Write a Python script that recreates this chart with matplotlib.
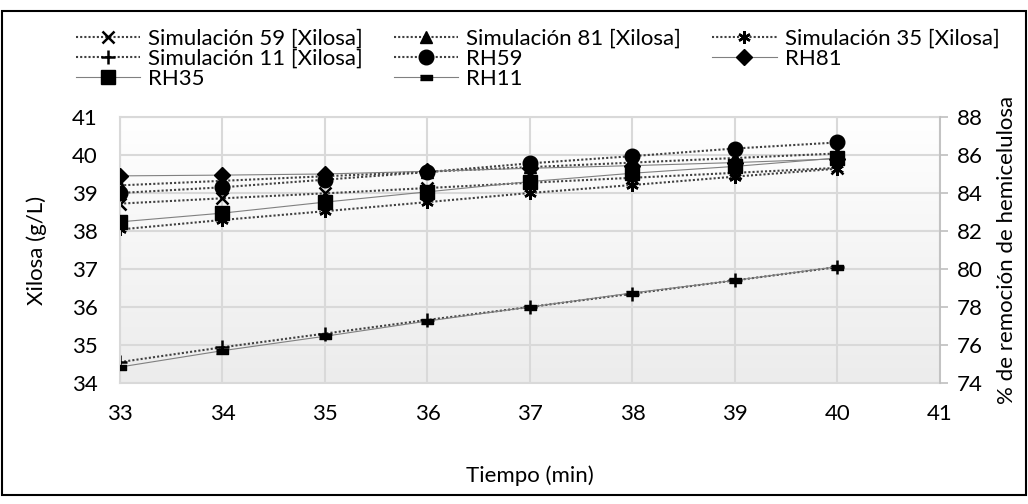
import numpy as np
import matplotlib.pyplot as plt
from matplotlib.patches import Rectangle
from matplotlib.colors import LinearSegmentedColormap

plt.rcParams['font.family'] = ['Lato', 'DejaVu Sans']

tiempo = [33, 34, 35, 36, 37, 38, 39, 40]

# Xilosa (g/L), eje izquierdo
sim59 = [38.72, 38.86, 38.99, 39.13, 39.27, 39.40, 39.53, 39.66]
sim81 = [39.20, 39.32, 39.44, 39.56, 39.68, 39.80, 39.92, 40.04]
sim35 = [38.04, 38.29, 38.52, 38.76, 39.00, 39.21, 39.43, 39.64]
sim11 = [34.55, 34.94, 35.30, 35.66, 36.00, 36.35, 36.70, 37.05]

# % de remoción de hemicelulosa, eje derecho
rh59 = [84.0, 84.3, 84.7, 85.1, 85.56, 85.94, 86.34, 86.66]
rh81 = [84.9, 84.94, 85.0, 85.14, 85.3, 85.44, 85.6, 85.8]
rh35 = [82.48, 82.94, 83.52, 84.06, 84.6, 85.04, 85.4, 85.84]
rh11 = [74.84, 75.7, 76.46, 77.26, 78.0, 78.74, 79.4, 80.12]

fs = 16

fig = plt.figure(figsize=(10.28, 5.04), dpi=100)
ax = fig.add_axes([0.1167, 0.2401, 0.7977, 0.5278])
ax2 = ax.twinx()

# fondo degradado del área de trazado
grad = np.linspace(0, 1, 256).reshape(-1, 1)
ax.imshow(grad, extent=[0, 1, 0, 1], transform=ax.transAxes,
          cmap=LinearSegmentedColormap.from_list('g', ['#ececec', '#ffffff']),
          origin='lower', aspect='auto', zorder=0)

dot = dict(linestyle=(0, (1, 1)), linewidth=1.5, color='#404040')
sol = dict(linestyle='-', linewidth=0.8, color='#808080')
mk = dict(markerfacecolor='black', markeredgecolor='black')

dash = [(-1, -0.45), (1, -0.45), (1, 0.45), (-1, 0.45)]

h_s59, = ax.plot(tiempo, sim59, marker='x', markersize=8, markeredgewidth=1.8,
                 label='Simulación 59 [Xilosa]', **dot, **mk)
h_s81, = ax.plot(tiempo, sim81, marker='^', markersize=9,
                 label='Simulación 81 [Xilosa]', **dot, **mk)
h_s35, = ax.plot(tiempo, sim35, marker=(6, 2, 0), markersize=9,
                 markeredgewidth=1.8, label='Simulación 35 [Xilosa]', **dot, **mk)
h_s11, = ax.plot(tiempo, sim11, marker='+', markersize=10, markeredgewidth=1.8,
                 label='Simulación 11 [Xilosa]', **dot, **mk)

h_r59, = ax2.plot(tiempo, rh59, marker='o', markersize=10.5,
                  label='RH59', **dot, **mk)
h_r81, = ax2.plot(tiempo, rh81, marker='D', markersize=8,
                  label='RH81', **sol, **mk)
h_r35, = ax2.plot(tiempo, rh35, marker='s', markersize=10,
                  label='RH35', **sol, **mk)
h_r11, = ax2.plot(tiempo, rh11, marker=dash, markersize=8,
                  label='RH11', **sol, **mk)

for a in (ax, ax2):
    a.set_xlim(33, 41)
    a.set_xticks(range(33, 42))
ax.set_ylim(34, 41)
ax.set_yticks(range(34, 42))
ax2.set_ylim(74, 88)
ax2.set_yticks(range(74, 89, 2))

ax.grid(True, color='#d9d9d9', linewidth=1.5, zorder=1)
ax.set_axisbelow(True)
for s in ax.spines.values():
    s.set_color('#d9d9d9')
    s.set_linewidth(1.5)
for s in ax2.spines.values():
    s.set_visible(False)
ax2.spines['right'].set_visible(True)
ax2.spines['right'].set_color('#bfbfbf')
ax2.spines['right'].set_linewidth(1.2)

ax.tick_params(axis='both', length=0, labelsize=fs, colors='black')
ax.tick_params(axis='x', pad=15)
ax.tick_params(axis='y', pad=16)
ax2.tick_params(axis='y', direction='out', length=6, width=1.2,
                color='#bfbfbf', labelsize=fs, pad=6)

ax.set_xlabel('Tiempo (min)', fontsize=fs, labelpad=30)
ax.set_ylabel('Xilosa (g/L)', fontsize=fs, labelpad=18)
ax2.set_ylabel('% de remoción de hemicelulosa', fontsize=fs, labelpad=10)

handles = [h_s59, h_s11, h_r35, h_s81, h_r59, h_r11, h_s35, h_r81]
fig.legend(handles=handles, labels=[h.get_label() for h in handles],
           ncol=3, loc='upper left', bbox_to_anchor=(0.054, 0.983),
           frameon=False, fontsize=fs, handlelength=2.9,
           labelspacing=0.0, columnspacing=1.4, handletextpad=0.36)

fig.patches.append(Rectangle((0.002, 0.018), 0.996, 0.96, transform=fig.transFigure,
                             fill=False, edgecolor='black', linewidth=1.5))

fig.savefig('out.png', dpi=100)
